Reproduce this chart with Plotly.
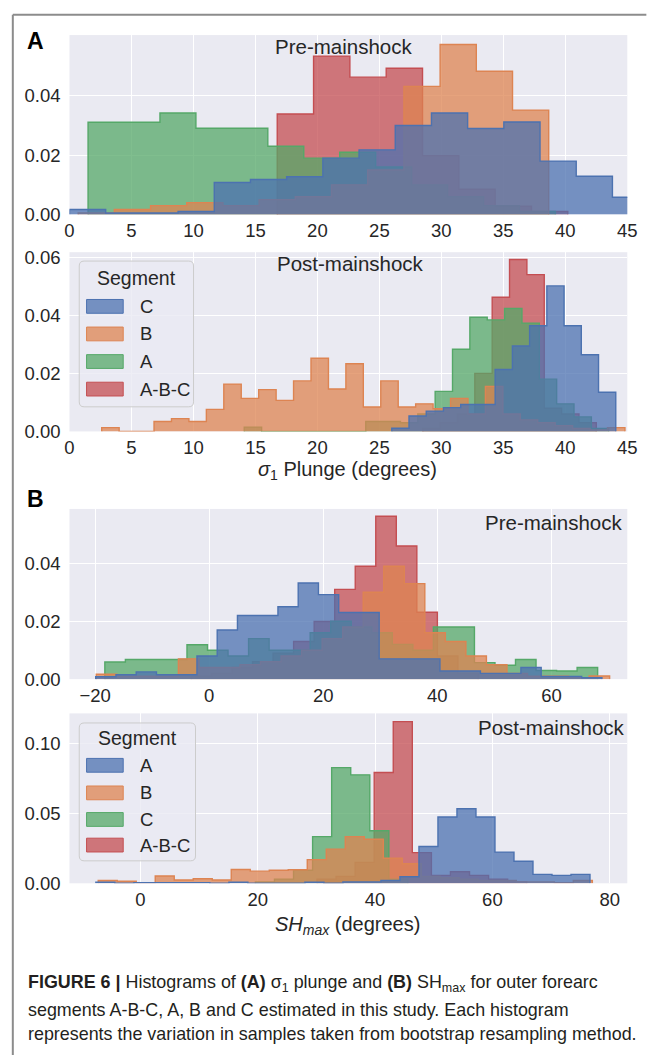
import numpy as np
import plotly.graph_objects as go

W, H = 650, 1055

# seaborn "deep" colours
BLUE, ORANGE, GREEN, RED = "#4C72B0", "#DD8452", "#55A868", "#C44E52"
FILL_ALPHA = 0.75

# ---------------- sigma1 plunge, pre-mainshock (density per bin) ----------------
s1pre_abc_start, s1pre_abc_width = 16.76, 2.93
s1pre_abc = [0.0339, 0.0534, 0.0463, 0.0493, 0.0198, 0.0085, 0.0028, 0.0010]

s1pre_a_start, s1pre_a_width = 1.5, 2.9
s1pre_a = [0.0311, 0.0311, 0.0342, 0.0291, 0.0291, 0.0230, 0.0190, 0.0210,
           0.0160, 0.0100, 0.0060, 0.0030, 0.0010]

s1pre_b_start, s1pre_b_width = 0.7, 2.92
s1pre_b = [0.0005, 0.0017, 0.0030, 0.0040, 0.0030, 0.0050, 0.0060, 0.0100,
           0.0150, 0.0432, 0.0573, 0.0483, 0.0352]

s1pre_c_start, s1pre_c_width = 0.0, 2.92
s1pre_c = [0.0017, 0.0005, 0.0005, 0.0010, 0.0108, 0.0118, 0.0127, 0.0190,
           0.0218, 0.0300, 0.0342, 0.0290, 0.0312, 0.0180, 0.0129, 0.0058]

# ---------------- sigma1 plunge, post-mainshock ----------------
s1post_abc_start, s1post_abc_width = 28.5, 1.4
s1post_abc = [0.0010, 0.0030, 0.0060, 0.0200, 0.0462, 0.0592, 0.0540, 0.0080,
              0.0060, 0.0030]

s1post_a_start, s1post_a_width = 14.1, 1.4
s1post_a = [0.0015, 0, 0, 0, 0, 0, 0, 0.0034, 0.0034, 0.0030, 0.0060, 0.0138,
            0.0283, 0.0393, 0.0384, 0.0423, 0.0373, 0.0180, 0.0095, 0.0050, 0.0010]

s1post_b_start, s1post_b_width = 2.6, 1.407
s1post_b = [0.0013, 0, 0, 0.0034, 0.0044, 0.0034, 0.0076, 0.0163, 0.0114, 0.0144,
            0.0107, 0.0174, 0.0252, 0.0146, 0.0233, 0.0084, 0.0174, 0.0084, 0.0095,
            0.0078, 0.0114, 0.0060, 0.0155, 0.0060, 0.0040, 0.0030, 0.0020, 0.0010,
            0.0005, 0.0013]

s1post_c_start, s1post_c_width = 26.0, 1.39
s1post_c = [0.0011, 0.0053, 0.0070, 0.0082, 0.0093, 0.0093, 0.0213, 0.0294,
            0.0364, 0.0501, 0.0364, 0.0264, 0.0135]

# ---------------- SHmax, pre-mainshock ----------------
shpre_abc_start, shpre_abc_width = -3.2, 3.6
shpre_abc = [0.0010, 0.0020, 0.0040, 0.0060, 0.0090, 0.0130, 0.0199, 0.0310,
             0.0390, 0.0563, 0.0460, 0.0231, 0.0080, 0.0020]

shpre_c_start, shpre_c_width = -18.3, 3.6
shpre_c = [0.0059, 0.0068, 0.0068, 0.0068, 0.0119, 0.0100, 0.0080, 0.0140,
           0.0100, 0.0100, 0.0160, 0.0200, 0.0180, 0.0160, 0.0120, 0.0100,
           0.0180, 0.0180, 0.0057, 0.0048, 0.0068, 0.0030, 0.0028, 0.0040]

shpre_b_start, shpre_b_width = -19.8, 3.6
shpre_b = [0.0017, 0.0010, 0.0010, 0.0010, 0.0070, 0.0040, 0.0040, 0.0050,
           0.0060, 0.0080, 0.0100, 0.0140, 0.0180, 0.0300, 0.0390, 0.0330,
           0.0160, 0.0130, 0.0080, 0.0050, 0.0020, 0.0010, 0.0010, 0.0005, 0.0011]

shpre_a_start, shpre_a_width = -19.9, 3.55
shpre_a = [0.0008, 0.0015, 0.0025, 0.0015, 0.0015, 0.0080, 0.0170, 0.0220,
           0.0220, 0.0250, 0.0332, 0.0292, 0.0230, 0.0230, 0.0070, 0.0070,
           0.0070, 0.0028, 0.0028, 0.0020, 0.0020, 0.0040, 0.0009, 0.0009, 0.0005]

# ---------------- SHmax, post-mainshock ----------------
shpost_abc_start, shpost_abc_width = 30.1, 3.25
shpost_abc = [0.0030, 0.0050, 0.0150, 0.0795, 0.1160, 0.0220, 0.0057, 0.0083,
              0.0057, 0.0030, 0.0010]

shpost_c_start, shpost_c_width = 19.6, 3.25
shpost_c = [0.0010, 0.0030, 0.0094, 0.0335, 0.0830, 0.0778, 0.0377, 0.0030]

shpost_b_start, shpost_b_width = -7.2, 3.24
shpost_b = [0.0020, 0.0015, 0.0005, 0.0052, 0.0024, 0.0033, 0.0024, 0.0099,
            0.0087, 0.0094, 0.0097, 0.0170, 0.0245, 0.0335, 0.0316, 0.0180,
            0.0140, 0.0050, 0.0040, 0.0030, 0.0020, 0.0020, 0.0010, 0.0010,
            0.0005, 0.0020]

shpost_a_start, shpost_a_width = -7.6, 3.24
shpost_a = [0.0008, 0, 0.0005, 0.0005, 0.0005, 0.0005, 0, 0.0008, 0, 0, 0,
            0.0008, 0, 0.0010, 0.0010, 0.0020, 0.0047, 0.0264, 0.0476, 0.0535,
            0.0476, 0.0224, 0.0158, 0.0064, 0.0057, 0.0064]

# axis ticks
s1_xticks = [0, 5, 10, 15, 20, 25, 30, 35, 40, 45]
shpre_xticks = [-20, 0, 20, 40, 60]
shpost_xticks = [0, 20, 40, 60, 80]

# ------------------------------------------------------------------
def rgba(hex_color, a):
    h = hex_color.lstrip("#")
    r, g, b = int(h[0:2], 16), int(h[2:4], 16), int(h[4:6], 16)
    return f"rgba({r},{g},{b},{a})"


def px_x(p):
    return p / W


def px_y(p):
    return 1 - p / H


# panel layout in page pixels: left, right, top, bottom
PLOT_L, PLOT_R = 66, 637
panels = [
    dict(top=29.5, bottom=211.7, xrange=[0, 45], yrange=[0, 0.0605],
         xticks=s1_xticks, yticks=[0, 0.02, 0.04],
         layers=[("A-B-C", RED, s1pre_abc_start, s1pre_abc_width, s1pre_abc),
                 ("A", GREEN, s1pre_a_start, s1pre_a_width, s1pre_a),
                 ("B", ORANGE, s1pre_b_start, s1pre_b_width, s1pre_b),
                 ("C", BLUE, s1pre_c_start, s1pre_c_width, s1pre_c)]),
    dict(top=250, bottom=432, xrange=[0, 45], yrange=[0, 0.0617],
         xticks=s1_xticks, yticks=[0, 0.02, 0.04, 0.06],
         layers=[("A-B-C", RED, s1post_abc_start, s1post_abc_width, s1post_abc),
                 ("A", GREEN, s1post_a_start, s1post_a_width, s1post_a),
                 ("B", ORANGE, s1post_b_start, s1post_b_width, s1post_b),
                 ("C", BLUE, s1post_c_start, s1post_c_width, s1post_c)]),
    dict(top=510.7, bottom=683.5, xrange=[-24.5, 73.3], yrange=[0, 0.0588],
         xticks=shpre_xticks, yticks=[0, 0.02, 0.04],
         layers=[("A-B-C", RED, shpre_abc_start, shpre_abc_width, shpre_abc),
                 ("C", GREEN, shpre_c_start, shpre_c_width, shpre_c),
                 ("B", ORANGE, shpre_b_start, shpre_b_width, shpre_b),
                 ("A", BLUE, shpre_a_start, shpre_a_width, shpre_a)]),
    dict(top=718.3, bottom=890.8, xrange=[-12.1, 83.0], yrange=[0, 0.1219],
         xticks=shpost_xticks, yticks=[0, 0.05, 0.10],
         layers=[("A-B-C", RED, shpost_abc_start, shpost_abc_width, shpost_abc),
                 ("C", GREEN, shpost_c_start, shpost_c_width, shpost_c),
                 ("B", ORANGE, shpost_b_start, shpost_b_width, shpost_b),
                 ("A", BLUE, shpost_a_start, shpost_a_width, shpost_a)]),
]

FONT = "Liberation Sans, Arial, Helvetica, sans-serif"
TXT = "#262626"

fig = go.Figure()
layout = dict(
    width=W, height=H, margin=dict(l=0, r=0, t=0, b=0),
    paper_bgcolor="white", plot_bgcolor="#EAEAF2",
    showlegend=False, font=dict(family=FONT, color=TXT),
)

for i, p in enumerate(panels, start=1):
    xa = "x" if i == 1 else f"x{i}"
    ya = "y" if i == 1 else f"y{i}"
    for name, col, start, width, dens in p["layers"]:
        dens = np.asarray(dens, dtype=float)
        edges = start + width * np.arange(len(dens) + 1)
        # closed step outline: up at first edge, across every bin, down at last edge
        xs = np.concatenate([[edges[0]], edges[:-1], [edges[-1]]])
        ys = np.concatenate([[0.0], dens, [0.0]])
        fig.add_trace(go.Scatter(
            x=xs, y=ys, mode="lines", line=dict(shape="hv", color=col, width=1.4),
            fill="tozeroy", fillcolor=rgba(col, FILL_ALPHA), name=name,
            xaxis=xa, yaxis=ya, hoverinfo="skip"))
    axkey = "xaxis" if i == 1 else f"xaxis{i}"
    aykey = "yaxis" if i == 1 else f"yaxis{i}"
    layout[axkey] = dict(
        domain=[px_x(PLOT_L), px_x(PLOT_R)], anchor=ya, range=p["xrange"],
        tickvals=p["xticks"], showgrid=True, gridcolor="white", gridwidth=1.3,
        zeroline=False, showline=False, ticks="", ticklabelstandoff=3,
        tickfont=dict(size=18.5, color=TXT, family=FONT))
    layout[aykey] = dict(
        domain=[px_y(p["bottom"]), px_y(p["top"])], anchor=xa, range=p["yrange"],
        tickvals=p["yticks"], tickformat=".2f", showgrid=True, gridcolor="white",
        gridwidth=1.3, zeroline=False, showline=False, ticks="",
        ticklabelstandoff=8, tickfont=dict(size=18.5, color=TXT, family=FONT))

fig.update_layout(**layout)

annotations = []
shapes = []


def text(x, y, s, size, xanchor="center", bold=False, color=TXT):
    annotations.append(dict(
        x=px_x(x), y=px_y(y), xref="paper", yref="paper", text=f"<b>{s}</b>" if bold else s,
        showarrow=False, xanchor=xanchor, yanchor="middle",
        font=dict(size=size, family=FONT, color=color)))


# panel letters
text(20, 36, "A", 23, xanchor="left", bold=True, color="black")
text(20, 501, "B", 23, xanchor="left", bold=True, color="black")

# panel titles
text(346, 41, "Pre-mainshock", 20.5)
text(354, 261, "Post-mainshock", 20.5)
text(634, 524, "Pre-mainshock", 20.5, xanchor="right")
text(637, 733, "Post-mainshock", 20.5, xanchor="right")

# axis titles
text(351, 472, "<i>σ</i><sub>1</sub> Plunge (degrees)", 20)
text(351, 934, "<i>SH</i><sub><i>max</i></sub> (degrees)", 20)

# caption
CAP = "#231F20"
CAP_SIZE = 17.9
text(21, 993, "<b>FIGURE 6</b> <b>|</b> Histograms of <b>(A)</b> σ<sub>1</sub> plunge and "
              "<b>(B)</b> SH<sub>max</sub> for outer forearc", CAP_SIZE, xanchor="left", color=CAP)
text(21, 1019, "segments A-B-C, A, B and C estimated in this study. Each histogram",
     CAP_SIZE, xanchor="left", color=CAP)
text(21, 1044, "represents the variation in samples taken from bootstrap resampling method.",
     CAP_SIZE, xanchor="left", color=CAP)


# segment legends (box, swatches, labels)
def legend(box, title_y, rows, entries):
    l, r, t, b = box
    rad = 5
    path = (f"M{px_x(l + rad)},{px_y(t)} L{px_x(r - rad)},{px_y(t)} "
            f"Q{px_x(r)},{px_y(t)} {px_x(r)},{px_y(t + rad)} "
            f"L{px_x(r)},{px_y(b - rad)} Q{px_x(r)},{px_y(b)} {px_x(r - rad)},{px_y(b)} "
            f"L{px_x(l + rad)},{px_y(b)} Q{px_x(l)},{px_y(b)} {px_x(l)},{px_y(b - rad)} "
            f"L{px_x(l)},{px_y(t + rad)} Q{px_x(l)},{px_y(t)} {px_x(l + rad)},{px_y(t)} Z")
    shapes.append(dict(type="path", path=path, xref="paper", yref="paper",
                       fillcolor="rgba(234,234,242,0.8)", line=dict(color="#CCCCCC", width=1)))
    text((l + r) / 2, title_y, "Segment", 19.5)
    for (name, col), yc in zip(entries, rows):
        shapes.append(dict(type="rect", xref="paper", yref="paper",
                           x0=px_x(l + 7.5), x1=px_x(l + 45), y0=px_y(yc - 7), y1=px_y(yc + 7),
                           fillcolor=rgba(col, FILL_ALPHA), line=dict(color=col, width=1)))
        text(l + 60, yc, name, 18.5, xanchor="left")


legend((76, 193, 259, 407), 276, [305, 333, 361, 389],
       [("C", BLUE), ("B", ORANGE), ("A", GREEN), ("A-B-C", RED)])
legend((76, 195, 728, 868), 743, [771, 799, 826, 852],
       [("A", BLUE), ("B", ORANGE), ("C", GREEN), ("A-B-C", RED)])

# figure frame (top and left rules)
shapes.append(dict(type="line", xref="paper", yref="paper", x0=px_x(8), x1=1.01,
                   y0=px_y(9), y1=px_y(9), line=dict(color="#8C8C8C", width=2)))
shapes.append(dict(type="line", xref="paper", yref="paper", x0=px_x(8), x1=px_x(8),
                   y0=px_y(9), y1=-0.01, line=dict(color="#8C8C8C", width=2)))

fig.update_layout(annotations=annotations, shapes=shapes)
fig.write_html("out.html", config={"displayModeBar": False})
